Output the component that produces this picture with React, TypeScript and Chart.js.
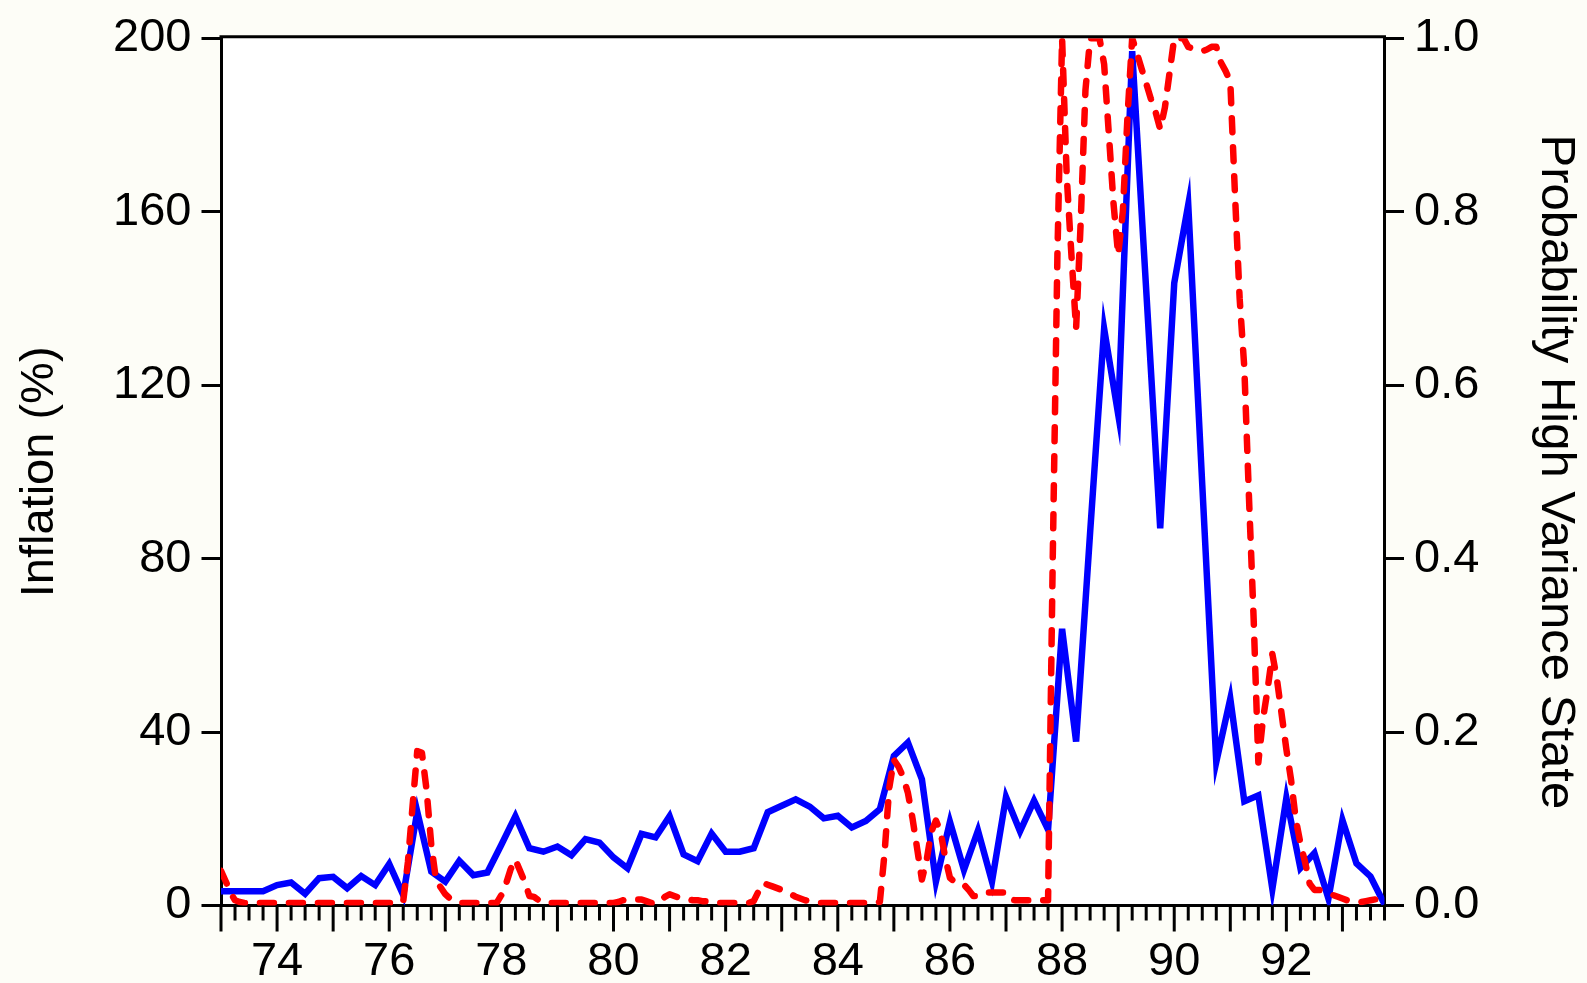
import React, { useEffect, useRef } from 'react';
import { Chart, registerables } from 'chart.js';

Chart.register(...registerables);

// ---------- data ----------
const X_MIN = 73; // 1973 Q1
const X_MAX = 93.75; // 1993 Q4

// quarterly inflation (%), 73Q1 .. 93Q4
const inflation = [
  3.3, 3.3, 3.3, 3.3, // 73
  4.7, 5.3, 2.7, 6.3, // 74
  6.6, 4.0, 6.8, 4.7, // 75
  9.6, 2.4, 21.6, 7.8, // 76
  5.5, 10.3, 7.0, 7.6, // 77
  14.0, 20.6, 13.2, 12.4, // 78
  13.6, 11.6, 15.3, 14.5, // 79
  11.1, 8.6, 16.5, 15.7, // 80
  20.6, 11.8, 10.2, 16.6, // 81
  12.4, 12.4, 13.2, 21.5, // 82
  23.0, 24.5, 22.8, 20.1, // 83
  20.7, 18.0, 19.5, 22.2, // 84
  34.5, 37.6, 29.1, 5.5, // 85
  19.3, 8.2, 17.3, 5.5, // 86
  25.0, 17.1, 24.2, 17.5, // 87
  63.8, 37.8, 86.0, 133.0, // 88
  113.3, 197.0, 142.0, 87.0, // 89
  143.5, 161.6, 97.0, 33.1, // 90
  47.7, 24.0, 25.4, 3.8, // 91
  24.8, 8.6, 12.1, 1.6, // 92
  19.7, 9.7, 6.7, 0.3, // 93
];

// monthly probability of the high variance state, Jan 73 .. Oct 93
const probHighVariance = [
  0.040, 0.028, 0.015, 0.006, 0.004, 0.003, 0.003, 0.003, 0.003, 0.003, 0.003, 0.003, // 73
  0.003, 0.003, 0.003, 0.003, 0.003, 0.003, 0.003, 0.003, 0.003, 0.003, 0.003, 0.003, // 74
  0.003, 0.003, 0.003, 0.003, 0.003, 0.003, 0.003, 0.003, 0.003, 0.003, 0.003, 0.003, // 75
  0.003, 0.003, 0.003, 0.005, 0.050, 0.115, 0.178, 0.176, 0.133, 0.070, 0.030, 0.021, // 76
  0.013, 0.008, 0.005, 0.003, 0.003, 0.003, 0.003, 0.003, 0.003, 0.003, 0.003, 0.003, // 77
  0.012, 0.025, 0.042, 0.053, 0.040, 0.027, 0.011, 0.010, 0.006, 0.003, 0.003, 0.003, // 78
  0.003, 0.003, 0.003, 0.003, 0.003, 0.003, 0.003, 0.003, 0.003, 0.003, 0.003, 0.003, // 79
  0.003, 0.004, 0.006, 0.007, 0.007, 0.007, 0.007, 0.005, 0.003, 0.002, 0.005, 0.010, // 80
  0.013, 0.011, 0.009, 0.007, 0.007, 0.006, 0.006, 0.005, 0.005, 0.004, 0.003, 0.003, // 81
  0.003, 0.003, 0.003, 0.003, 0.003, 0.003, 0.005, 0.016, 0.026, 0.024, 0.022, 0.020, // 82
  0.018, 0.016, 0.013, 0.010, 0.008, 0.006, 0.005, 0.004, 0.003, 0.003, 0.003, 0.003, // 83
  0.003, 0.003, 0.003, 0.003, 0.003, 0.003, 0.003, 0.003, 0.003, 0.004, 0.060, 0.135, // 84
  0.168, 0.160, 0.148, 0.130, 0.100, 0.065, 0.030, 0.052, 0.085, 0.098, 0.085, 0.055, // 85
  0.032, 0.027, 0.025, 0.024, 0.018, 0.011, 0.011, 0.014, 0.015, 0.015, 0.015, 0.015, // 86
  0.015, 0.007, 0.006, 0.006, 0.006, 0.006, 0.006, 0.006, 0.006, 0.006, 0.400, 0.750, // 87
  1.000, 0.840, 0.750, 0.665, 0.790, 0.940, 1.000, 1.000, 1.000, 0.970, 0.890, 0.810, // 88
  0.750, 0.800, 0.910, 1.000, 0.983, 0.965, 0.948, 0.930, 0.915, 0.895, 0.920, 0.960, // 89
  1.000, 1.000, 1.000, 0.990, 0.988, 0.987, 0.985, 0.987, 0.990, 0.990, 0.972, 0.962, // 90
  0.950, 0.820, 0.700, 0.620, 0.470, 0.330, 0.165, 0.215, 0.250, 0.290, 0.260, 0.220, // 91
  0.180, 0.145, 0.100, 0.072, 0.050, 0.025, 0.018, 0.018, 0.017, 0.015, 0.012, 0.010, // 92
  0.008, 0.006, 0.005, 0.004, 0.004, 0.005, 0.006, 0.007, 0.008, 0.009, // 93
];

const xTickYears = [74, 76, 78, 80, 82, 84, 86, 88, 90, 92];
const leftTicks = [0, 40, 80, 120, 160, 200];
const rightTicks = [0, 0.2, 0.4, 0.6, 0.8, 1.0];

const leftTitle = 'Inflation (%)';
const rightTitle = 'Probability High Variance State';

// ---------- layout / style ----------
const W = 1587;
const H = 983;
const AREA = { left: 221, right: 1384.5, top: 37.5, bottom: 905.5 };
const FONT = "'Liberation Sans', Arial, Helvetica, sans-serif";
const PAGE_BG = '#fdfdf7';

export default function App() {
  const ref = useRef<HTMLCanvasElement | null>(null);

  useEffect(() => {
    document.body.style.margin = '0';
    const canvas = ref.current;
    if (!canvas) return;

    const bluePts = inflation.map((v, i) => ({ x: X_MIN + i / 4, y: v }));
    const redPts = probHighVariance.map((v, i) => ({ x: X_MIN + i / 12, y: v }));

    const framePlugin = {
      id: 'frameAndTicks',
      beforeDraw(chart: any) {
        const { ctx, chartArea: ca, width, height } = chart;
        ctx.save();
        ctx.fillStyle = PAGE_BG;
        ctx.fillRect(0, 0, width, height);
        ctx.fillStyle = '#ffffff';
        ctx.fillRect(ca.left, ca.top, ca.right - ca.left, ca.bottom - ca.top);
        ctx.restore();
      },
      afterDraw(chart: any) {
        const { ctx, chartArea: ca } = chart;
        const xs = chart.scales.x;
        ctx.save();
        ctx.strokeStyle = '#000';
        ctx.lineWidth = 3;
        ctx.lineCap = 'butt';
        ctx.beginPath();
        ctx.moveTo(ca.left - 1.5, ca.top - 1.5);
        ctx.lineTo(ca.right + 1.5, ca.top - 1.5);
        ctx.stroke();
        const n = Math.round((X_MAX - X_MIN) * 4);
        for (let q = 0; q <= n; q++) {
          const v = X_MIN + q / 4;
          const px = xs.getPixelForValue(v);
          const len = q % 4 === 0 ? 26 : 15;
          ctx.beginPath();
          ctx.moveTo(px, ca.bottom);
          ctx.lineTo(px, ca.bottom + len);
          ctx.stroke();
        }
        ctx.restore();
      },
    };

    const chart = new Chart(canvas, {
      type: 'line',
      data: {
        datasets: [
          {
            label: 'Probability High Variance State',
            data: redPts,
            yAxisID: 'y1',
            borderColor: '#ff0000',
            borderWidth: 6.5,
            borderDash: [14, 15],
            borderCapStyle: 'round',
            borderJoinStyle: 'round',
            pointRadius: 0,
            tension: 0,
            fill: false,
            order: 0,
          },
          {
            label: 'Inflation',
            data: bluePts,
            yAxisID: 'y',
            borderColor: '#0000ff',
            borderWidth: 6.5,
            borderJoinStyle: 'miter',
            pointRadius: 0,
            tension: 0,
            fill: false,
            order: 1,
          },
        ],
      },
      options: {
        animation: false,
        responsive: false,
        layout: { padding: { top: AREA.top, left: 0, right: 0, bottom: 0 } },
        plugins: { legend: { display: false }, tooltip: { enabled: false } },
        scales: {
          x: {
            type: 'linear',
            position: 'bottom',
            min: X_MIN,
            max: X_MAX,
            afterBuildTicks: (s: any) => {
              s.ticks = xTickYears.map((v) => ({ value: v }));
            },
            afterFit: (s: any) => {
              s.height = H - AREA.bottom;
            },
            grid: { display: false, drawTicks: true, tickLength: 26 },
            border: { display: true, color: '#000', width: 3 },
            ticks: {
              autoSkip: false,
              maxRotation: 0,
              minRotation: 0,
              padding: 2,
              color: '#000',
              font: { family: FONT, size: 47 },
              callback: (v: any) => String(v),
            },
          },
          y: {
            type: 'linear',
            position: 'left',
            min: 0,
            max: 200,
            afterBuildTicks: (s: any) => {
              s.ticks = leftTicks.map((v) => ({ value: v }));
            },
            afterFit: (s: any) => {
              s.width = AREA.left;
            },
            grid: { display: true, drawOnChartArea: false, drawTicks: true, tickLength: 19.5, tickWidth: 3, tickColor: '#000' },
            border: { display: true, color: '#000', width: 3 },
            ticks: {
              padding: 10,
              color: '#000',
              font: { family: FONT, size: 47 },
              callback: (v: any) => String(v),
            },
            title: {
              display: true,
              text: leftTitle,
              color: '#000',
              font: { family: FONT, size: 47 },
              padding: { top: 12, bottom: 0 },
            },
          },
          y1: {
            type: 'linear',
            position: 'right',
            min: 0,
            max: 1,
            afterBuildTicks: (s: any) => {
              s.ticks = rightTicks.map((v) => ({ value: v }));
            },
            afterFit: (s: any) => {
              s.width = W - AREA.right;
            },
            grid: { display: true, drawOnChartArea: false, drawTicks: true, tickLength: 19.5, tickWidth: 3, tickColor: '#000' },
            border: { display: true, color: '#000', width: 3 },
            ticks: {
              padding: 10,
              color: '#000',
              font: { family: FONT, size: 47 },
              callback: (v: any) => Number(v).toFixed(1),
            },
            title: {
              display: true,
              text: rightTitle,
              color: '#000',
              font: { family: FONT, size: 49 },
              padding: { top: 2, bottom: 0 },
            },
          },
        },
      },
      plugins: [framePlugin],
    } as any);

    return () => chart.destroy();
  }, []);

  return (
    <div style={{ width: W, height: H }}>
      <canvas ref={ref} width={W} height={H} style={{ display: 'block' }} />
    </div>
  );
}
